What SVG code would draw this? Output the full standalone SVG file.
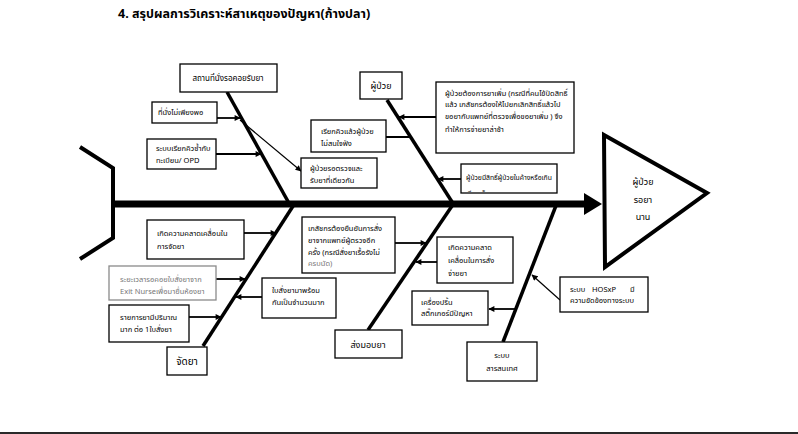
<svg xmlns="http://www.w3.org/2000/svg" width="798" height="434" viewBox="0 0 798 434">
<style>
  .box{fill:#fff;stroke:#000;stroke-width:1.3}
  .gbox{fill:#fff;stroke:#8a8a8a;stroke-width:1.3}
  .t{font-family:"Noto Sans Thai","Liberation Sans","Noto Sans",Tahoma,sans-serif;font-size:7.5px;fill:#000}
  .tg{font-family:"Noto Sans Thai","Liberation Sans","Noto Sans",Tahoma,sans-serif;font-size:7.5px;fill:#777}
  .tl{font-family:"Noto Sans Thai","Liberation Sans","Noto Sans",Tahoma,sans-serif;font-size:9px;fill:#000;text-anchor:middle}
  .title{font-family:"Noto Sans Thai","Liberation Sans","Noto Sans",Tahoma,sans-serif;font-size:12.5px;font-weight:bold;fill:#000}
  .bone{stroke:#000;stroke-width:3.5;fill:none}
  .arr{stroke:#000;stroke-width:1.8;fill:none;marker-end:url(#ah)}
  .arrt{stroke:#000;stroke-width:1.2;fill:none;marker-end:url(#ah)}
</style>
<defs>
  <marker id="ah" viewBox="0 0 10 10" refX="9" refY="5" markerUnits="userSpaceOnUse" markerWidth="7" markerHeight="6" orient="auto">
    <path d="M0,0 L10,5 L0,10 z" fill="#000"/>
  </marker>
  <clipPath id="clipS"><rect x="461" y="164" width="95" height="28"/></clipPath>
</defs>
<rect width="798" height="434" fill="#fff"/>
<text class="title" x="118" y="18">4. สรุปผลการวิเคราะห์สาเหตุของปัญหา(ก้างปลา)</text>

<g id="connectors">
  <!-- tail -->
  <polyline points="80,147 113,168 113,238 80,259" fill="none" stroke="#000" stroke-width="4"/>
  <!-- spine -->
  <line x1="113" y1="204" x2="586" y2="204" stroke="#000" stroke-width="7"/>
  <polygon points="584,193 602,204 584,215" fill="#000"/>
  <!-- bones -->
  <line class="bone" x1="227" y1="92" x2="290" y2="205"/>
  <line class="bone" x1="387" y1="100" x2="454" y2="205"/>
  <line class="bone" x1="203" y1="346" x2="295" y2="203"/>
  <line class="bone" x1="368" y1="330" x2="454" y2="203"/>
  <line class="bone" x1="503" y1="342" x2="557" y2="203"/>
  <!-- small arrows -->
  <line class="arr" x1="217" y1="118" x2="240" y2="118"/>
  <line class="arr" x1="216" y1="154" x2="261" y2="154"/>
  <line class="arrt" x1="240" y1="120" x2="301" y2="171"/>
  <line class="arr" x1="436" y1="117" x2="399" y2="117"/>
  <line class="arr" x1="409" y1="137" x2="360" y2="137"/>
  <line class="arr" x1="461" y1="179" x2="438" y2="179"/>
  <line class="arr" x1="244" y1="233" x2="276" y2="233"/>
  <line class="arr" x1="216" y1="279" x2="245" y2="279"/>
  <line class="arr" x1="189" y1="317" x2="221" y2="317"/>
  <line class="arr" x1="262" y1="297" x2="236" y2="297"/>
  <line class="arr" x1="395" y1="243" x2="426" y2="243"/>
  <line class="arr" x1="437" y1="262" x2="416" y2="262"/>
  <line class="arrt" x1="560" y1="300" x2="532" y2="275"/>
  <line class="arr" x1="515" y1="309" x2="489" y2="309"/>
</g>

<g id="head">
  <polygon points="604,135 707,193 605,267" fill="#fff" stroke="#000" stroke-width="4" stroke-linejoin="miter"/>
  <text class="tl" x="643" y="185">ผู้ป่วย</text>
  <text class="tl" x="643" y="203">รอยา</text>
  <text class="tl" x="643" y="220">นาน</text>
</g>

<g id="n-station">
  <rect class="box" x="180" y="64" width="97" height="28"/>
  <text class="tl" x="228" y="81" style="font-size:8px">สถานที่นั่งรอคอยรับยา</text>
</g>
<g id="n-seat">
  <rect class="box" x="152" y="102" width="65" height="21"/>
  <text class="t" x="158" y="115">ที่นั่งไม่เพียงพอ</text>
</g>
<g id="n-queue">
  <rect class="box" x="147" y="139" width="69" height="30"/>
  <text class="t" x="156" y="151">ระบบเรียกคิวซ้ำกับ</text>
  <text class="t" x="156" y="163">ทะเบียน/ OPD</text>
</g>
<g id="n-wait">
  <rect class="box" x="301" y="158" width="76" height="30"/>
  <text class="t" x="310" y="171">ผู้ป่วยรอตรวจและ</text>
  <text class="t" x="310" y="183">รับยาที่เดียวกัน</text>
</g>
<g id="n-patient">
  <rect class="box" x="360" y="72" width="42" height="27"/>
  <text class="tl" x="381" y="89">ผู้ป่วย</text>
</g>
<g id="n-more">
  <rect class="box" x="436" y="82" width="138" height="71"/>
  <text class="t" x="445" y="96">ผู้ป่วยต้องการยาเพิ่ม (กรณีที่คนไข้ปิดสิทธิ์</text>
  <text class="t" x="445" y="107">แล้ว เภสัชกรต้องให้ไปยกเลิกสิทธิ์แล้วไป</text>
  <text class="t" x="445" y="119">ขอยากับแพทย์ที่ตรวจเพื่อขอยาเพิ่ม  ) จึง</text>
  <text class="t" x="445" y="132">ทำให้การจ่ายยาล่าช้า</text>
</g>
<g id="n-call">
  <rect class="box" x="311" y="120" width="75" height="32"/>
  <text class="t" x="321" y="134">เรียกคิวแล้วผู้ป่วย</text>
  <text class="t" x="321" y="146">ไม่สนใจฟัง</text>
</g>
<g id="n-right">
  <rect class="box" x="461" y="164" width="96" height="29"/>
  <g clip-path="url(#clipS)">
    <text class="t" x="466" y="180" style="font-size:6.8px">ผู้ป่วยมีสิทธิ์ผู้ป่วยในค้างหรือเกิน</text>
    <text class="t" x="466" y="196" style="font-size:6.8px">เรียกเก็บ</text>
  </g>
</g>

<g id="n-dispense">
  <rect class="box" x="167" y="347" width="40" height="28"/>
  <text class="tl" x="187" y="365" style="font-size:10px">จัดยา</text>
</g>
<g id="n-err1">
  <rect class="box" x="147" y="220" width="97" height="39"/>
  <text class="t" x="157" y="236">เกิดความคลาดเคลื่อนใน</text>
  <text class="t" x="157" y="249">การจัดยา</text>
</g>
<g id="n-exit">
  <rect class="gbox" x="109" y="266" width="107" height="34"/>
  <text class="tg" x="120" y="282">ระยะเวลารอคอยใบสั่งยาจาก</text>
  <text class="tg" x="120" y="294">Exit Nurseเพื่อมายื่นห้องยา</text>
</g>
<g id="n-many">
  <rect class="box" x="109" y="305" width="80" height="37"/>
  <text class="t" x="120" y="320">รายการยามีปริมาณ</text>
  <text class="t" x="120" y="332">มาก ต่อ 1ใบสั่งยา</text>
</g>
<g id="n-rx">
  <rect class="box" x="262" y="278" width="74" height="40"/>
  <text class="t" x="272" y="293">ใบสั่งยามาพร้อม</text>
  <text class="t" x="272" y="305">กันเป็นจำนวนมาก</text>
</g>
<g id="n-deliver">
  <rect class="box" x="335" y="330" width="67" height="28"/>
  <text class="tl" x="368" y="348">ส่งมอบยา</text>
</g>
<g id="n-confirm">
  <rect class="box" x="302" y="217" width="93" height="56"/>
  <text class="t" x="308" y="231">เภสัชกรต้องยืนยันการสั่ง</text>
  <text class="t" x="308" y="243">ยาจากแพทย์ผู้ตรวจอีก</text>
  <text class="t" x="308" y="255">ครั้ง (กรณีสั่งยาเรื้อรังไม่</text>
  <text class="tg" x="308" y="266">ครบนัด)</text>
</g>
<g id="n-err2">
  <rect class="box" x="437" y="237" width="76" height="46"/>
  <text class="t" x="448" y="250">เกิดความคลาด</text>
  <text class="t" x="448" y="263">เคลื่อนในการสั่ง</text>
  <text class="t" x="448" y="276">จ่ายยา</text>
</g>
<g id="n-printer">
  <rect class="box" x="412" y="291" width="76" height="34"/>
  <text class="t" x="421" y="305">เครื่องปริ้น</text>
  <text class="t" x="421" y="316">สติ๊กเกอร์มีปัญหา</text>
</g>
<g id="n-info">
  <rect class="box" x="467" y="342" width="70" height="39"/>
  <text class="tl" x="502" y="358" style="font-size:7.5px">ระบบ</text>
  <text class="tl" x="502" y="371" style="font-size:7.5px">สารสนเทศ</text>
</g>
<g id="n-hosxp">
  <rect class="box" x="560" y="277" width="88" height="35"/>
  <text class="t" x="570" y="292">ระบบ<tspan x="592">HOSxP</tspan><tspan x="630">มี</tspan></text>
  <text class="t" x="570" y="303">ความขัดข้องทางระบบ</text>
</g>

<rect x="0" y="432" width="798" height="2.5" fill="#2a2a2a"/>
</svg>
